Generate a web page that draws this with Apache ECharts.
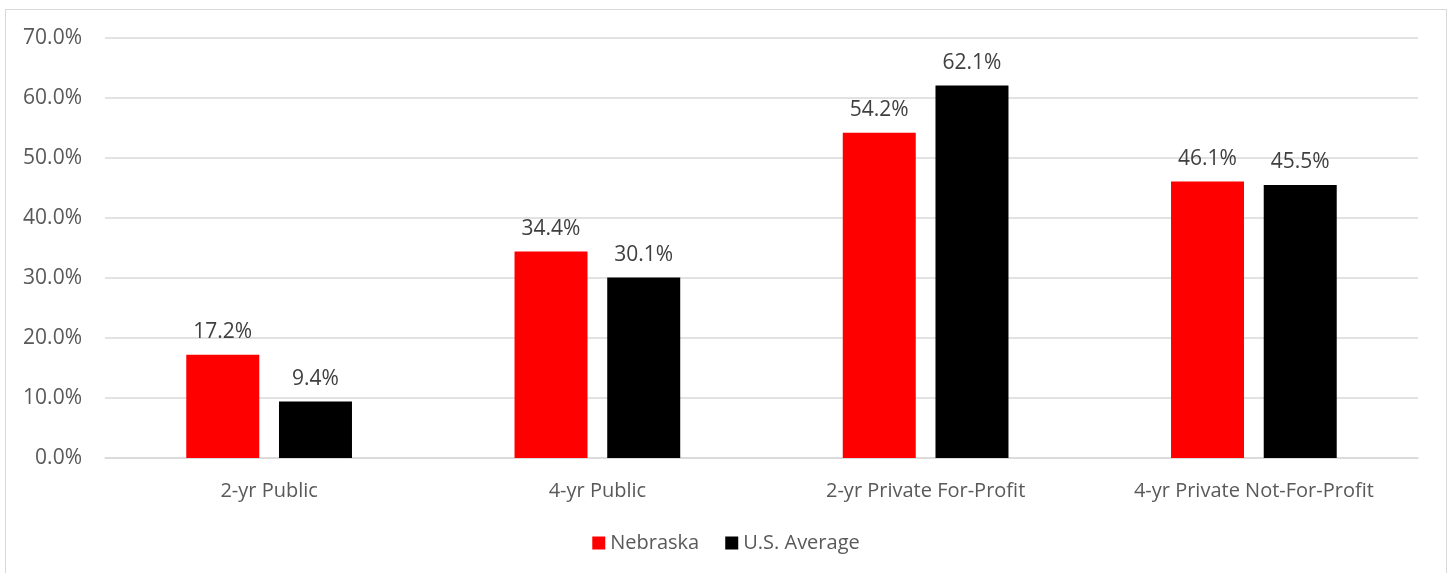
<!DOCTYPE html>
<html><head><meta charset="utf-8">
<script src="https://cdn.jsdelivr.net/npm/echarts@6/dist/echarts.min.js"></script>
<style>html,body{margin:0;padding:0;background:#fff}#wrap{position:absolute;left:5px;top:9px;width:1442px;height:580px;border:1px solid #d9d9d9;box-sizing:border-box}#c{position:absolute;left:0;top:0;width:1452px;height:573px}</style>
</head><body><div id="wrap"></div><div id="c"></div>
<script>
const categories = ["2-yr Public", "4-yr Public", "2-yr Private For-Profit", "4-yr Private Not-For-Profit"];
const nebraska = [17.2, 34.4, 54.2, 46.1];
const usAverage = [9.4, 30.1, 62.1, 45.5];
const yTicks = [0, 10, 20, 30, 40, 50, 60, 70];

const chart = echarts.init(document.getElementById('c'));
const font = '"Open Sans", "Noto Sans", sans-serif';
const lbl = {show: true, position: 'top', distance: 12, formatter: p => p.value.toFixed(1) + '%', color: '#404040', fontSize: 21, fontFamily: font};
chart.setOption({
  animation: false,
  grid: {left: 105, right: 34, top: 38, bottom: 115, containLabel: false},
  legend: {bottom: 15, left: 'center', itemWidth: 13, itemHeight: 13, itemGap: 26, icon: 'rect',
    textStyle: {color: '#595959', fontSize: 20, fontFamily: font},
    data: ['Nebraska', 'U.S. Average']},
  xAxis: {type: 'category', data: categories,
    axisLine: {show: true, lineStyle: {color: '#d9d9d9', width: 1.5}}, axisTick: {show: false},
    axisLabel: {color: '#595959', fontSize: 20, fontFamily: font, margin: 23}},
  yAxis: {type: 'value', min: yTicks[0], max: yTicks[yTicks.length-1], interval: 10,
    axisLine: {show: false}, axisTick: {show: false},
    splitLine: {lineStyle: {color: '#d9d9d9', width: 1.5}},
    axisLabel: {color: '#595959', fontSize: 21, fontFamily: font, margin: 23, formatter: v => v.toFixed(1) + '%'}},
  series: [
    {name: 'Nebraska', type: 'bar', data: nebraska, barWidth: 73, barGap: '27%', itemStyle: {color: '#ff0000'}, label: lbl},
    {name: 'U.S. Average', type: 'bar', data: usAverage, barWidth: 73, itemStyle: {color: '#000000'}, label: lbl}
  ]
});
</script></body></html>
